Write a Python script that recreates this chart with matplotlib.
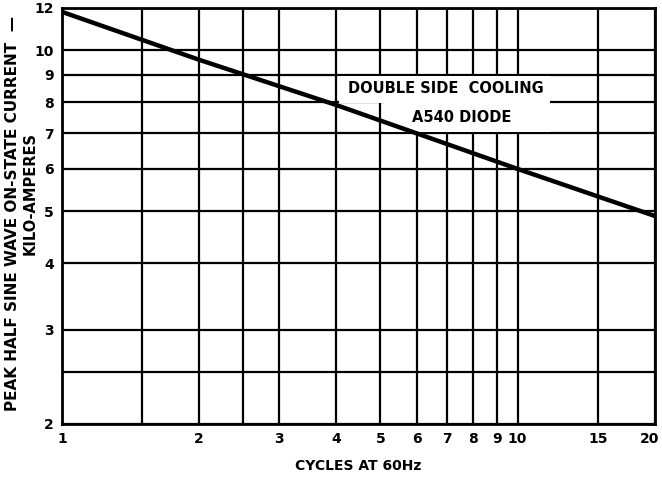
import matplotlib.pyplot as plt
from matplotlib.patches import Rectangle
import matplotlib.transforms as mtransforms
import numpy as np

# chart data
cycles = [1, 2, 4, 10, 20]
current_ka = [11.8, 9.6, 7.9, 6.0, 4.9]

x_grid = [1, 1.5, 2, 2.5, 3, 4, 5, 6, 7, 8, 9, 10, 15, 20]
y_grid = [2, 2.5, 3, 4, 5, 6, 7, 8, 9, 10, 12]
x_ticks = [1, 2, 3, 4, 5, 6, 7, 8, 9, 10, 15, 20]
y_ticks = [2, 3, 4, 5, 6, 7, 8, 9, 10, 12]

plt.rcParams['font.family'] = 'DejaVu Sans'
plt.rcParams['font.weight'] = 'bold'

fig = plt.figure(figsize=(6.62, 4.84), dpi=100)
ax = fig.add_axes([0.0937, 0.124, 0.8953, 0.8595])
ax.set_xscale('log')
ax.set_yscale('log')
ax.set_xlim(1, 20)
ax.set_ylim(2, 12)

# heavy grid
for xv in x_grid:
    ax.axvline(xv, color='black', lw=1.6, zorder=1)
for yv in y_grid:
    ax.axhline(yv, color='black', lw=1.6, zorder=1)

# white patches behind the note
ax.add_patch(Rectangle((4.06, 7.96), 11.8 - 4.06, 8.96 - 7.96, facecolor='white',
                       edgecolor='none', zorder=2))
ax.add_patch(Rectangle((5.1, 7.04), 11.8 - 5.1, 8.0 - 7.04, facecolor='white',
                       edgecolor='none', zorder=2))
ax.text(6.95, 8.47, 'DOUBLE SIDE  COOLING', ha='center', va='center',
        fontsize=10.5, fontweight='bold', zorder=3)
ax.text(7.55, 7.5, 'A540 DIODE', ha='center', va='center',
        fontsize=10.5, fontweight='bold', zorder=3)

ax.plot(cycles, current_ka, color='black', lw=3.2, solid_capstyle='butt', zorder=4)

ax.set_xticks(x_ticks)
ax.set_xticklabels([str(v) for v in x_ticks])
ax.set_xticks([], minor=True)
ax.set_yticks(y_ticks)
ax.set_yticklabels([str(v) for v in y_ticks])
ax.set_yticks([], minor=True)
ax.tick_params(length=0, labelsize=10, pad=6)
for lab in ax.get_xticklabels() + ax.get_yticklabels():
    lab.set_fontweight('bold')
# keep the last x label inside the picture
last = ax.get_xticklabels()[-1]
last.set_transform(last.get_transform() +
                   mtransforms.ScaledTranslation(-4 / 72, 0, fig.dpi_scale_trans))

for sp in ax.spines.values():
    sp.set_linewidth(2)

fig.text(0.541, 0.037, 'CYCLES AT 60Hz', ha='center', va='center',
         fontsize=10, fontweight='bold')
fig.text(0.019, 0.56, 'PEAK HALF SINE WAVE ON-STATE CURRENT  \u2014', rotation=90,
         ha='center', va='center', fontsize=11, fontweight='bold')
fig.text(0.045, 0.60, 'KILO-AMPERES', rotation=90,
         ha='center', va='center', fontsize=10.5, fontweight='bold')

fig.savefig('out.png', dpi=100)
